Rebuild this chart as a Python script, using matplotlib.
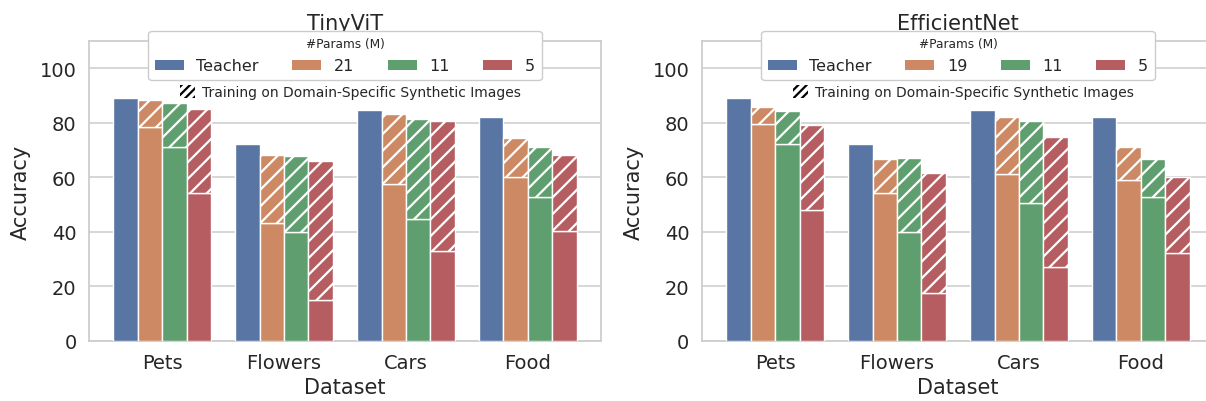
import numpy as np
import matplotlib
matplotlib.use("Agg")
import matplotlib.pyplot as plt
from matplotlib.patches import Patch

plt.rcParams['font.family'] = ['DejaVu Sans']
plt.rcParams['text.color'] = '#262626'
plt.rcParams['axes.labelcolor'] = '#262626'
plt.rcParams['xtick.color'] = '#262626'
plt.rcParams['ytick.color'] = '#262626'
plt.rcParams['hatch.linewidth'] = 1.6

datasets = ["Pets", "Flowers", "Cars", "Food"]
teacher = [89.0, 72.3, 84.8, 82.3]

# TinyViT: solid = base, hatched top = with synthetic images
tiny_sizes = ["21", "11", "5"]
tiny_base = [[78.3, 43.1, 57.6, 60.2],
             [71.1, 39.8, 44.8, 52.7],
             [54.1, 15.0, 33.1, 40.3]]
tiny_synth = [[88.2, 68.3, 83.2, 74.3],
              [87.1, 67.8, 81.5, 71.3],
              [85.1, 66.1, 80.5, 68.1]]

# EfficientNet
eff_sizes = ["19", "11", "5"]
eff_base = [[79.4, 54.1, 61.2, 59.1],
            [72.2, 40.0, 50.5, 52.9],
            [48.0, 17.7, 27.0, 32.1]]
eff_synth = [[85.7, 66.8, 82.2, 71.0],
             [84.5, 67.0, 80.5, 66.9],
             [79.1, 61.7, 74.7, 60.0]]

colors = ["#5875a4", "#cc8963", "#5f9e6e", "#b55d60"]

fig = plt.figure(figsize=(12.06, 4.02), dpi=100)
ax1 = fig.add_axes([89/1206, 60/402, 512/1206, 300/402])
ax2 = fig.add_axes([702/1206, 60/402, 512/1206, 300/402])


def draw(ax, title, sizes, base, synth):
    x = np.arange(len(datasets))
    w = 0.2
    ax.bar(x - 0.3, teacher, w, color=colors[0], edgecolor='white', linewidth=1, zorder=3)
    for i in range(3):
        xi = x + (-0.1 + 0.2 * i)
        b = np.array(base[i])
        s = np.array(synth[i])
        ax.bar(xi, b, w, color=colors[i + 1], edgecolor='white', linewidth=1, zorder=3)
        ax.bar(xi, s - b, w, bottom=b, color=colors[i + 1], edgecolor='white',
               linewidth=1, hatch='//', zorder=3)
    ax.set_xlim(-0.6, 3.6)
    ax.set_ylim(0, 110)
    ax.set_yticks([0, 20, 40, 60, 80, 100])
    ax.set_xticks(x)
    ax.set_xticklabels(datasets)
    ax.tick_params(axis='both', length=0, labelsize=14, pad=9)
    ax.grid(axis='y', color='#cccccc', linewidth=1.1, zorder=0)
    ax.set_axisbelow(True)
    for sp in ax.spines.values():
        sp.set_color('#cccccc')
        sp.set_linewidth(1.25)
    ax.set_title(title, fontsize=15, pad=9)
    ax.set_xlabel("Dataset", fontsize=15, labelpad=3)
    ax.set_ylabel("Accuracy", fontsize=15, labelpad=6)

    handles = [Patch(facecolor=c) for c in colors]
    labels = ["Teacher"] + sizes
    leg = ax.legend(handles, labels, title="#Params (M)", title_fontsize=8.7, fontsize=11.5,
                    ncol=4, loc='upper center', bbox_to_anchor=(0.5, 1.033),
                    borderaxespad=0,
                    handlelength=1.8, handleheight=0.56, columnspacing=2.1, borderpad=0.4,
                    labelspacing=0.5, framealpha=1, edgecolor='#cccccc', fancybox=True)
    leg.set_zorder(5)
    leg._legend_title_box.sep = 5
    ax.add_artist(leg)
    hp = Patch(facecolor='white', edgecolor='black', linewidth=0, hatch='////')
    ax.legend([hp], ["Training on Domain-Specific Synthetic Images"], fontsize=10,
              loc='center', bbox_to_anchor=(0.51, 0.83), frameon=False,
              handlelength=1.1, handleheight=1.1, handletextpad=0.5)


draw(ax1, "TinyViT", tiny_sizes, tiny_base, tiny_synth)
draw(ax2, "EfficientNet", eff_sizes, eff_base, eff_synth)

fig.savefig("out.png", dpi=100)
